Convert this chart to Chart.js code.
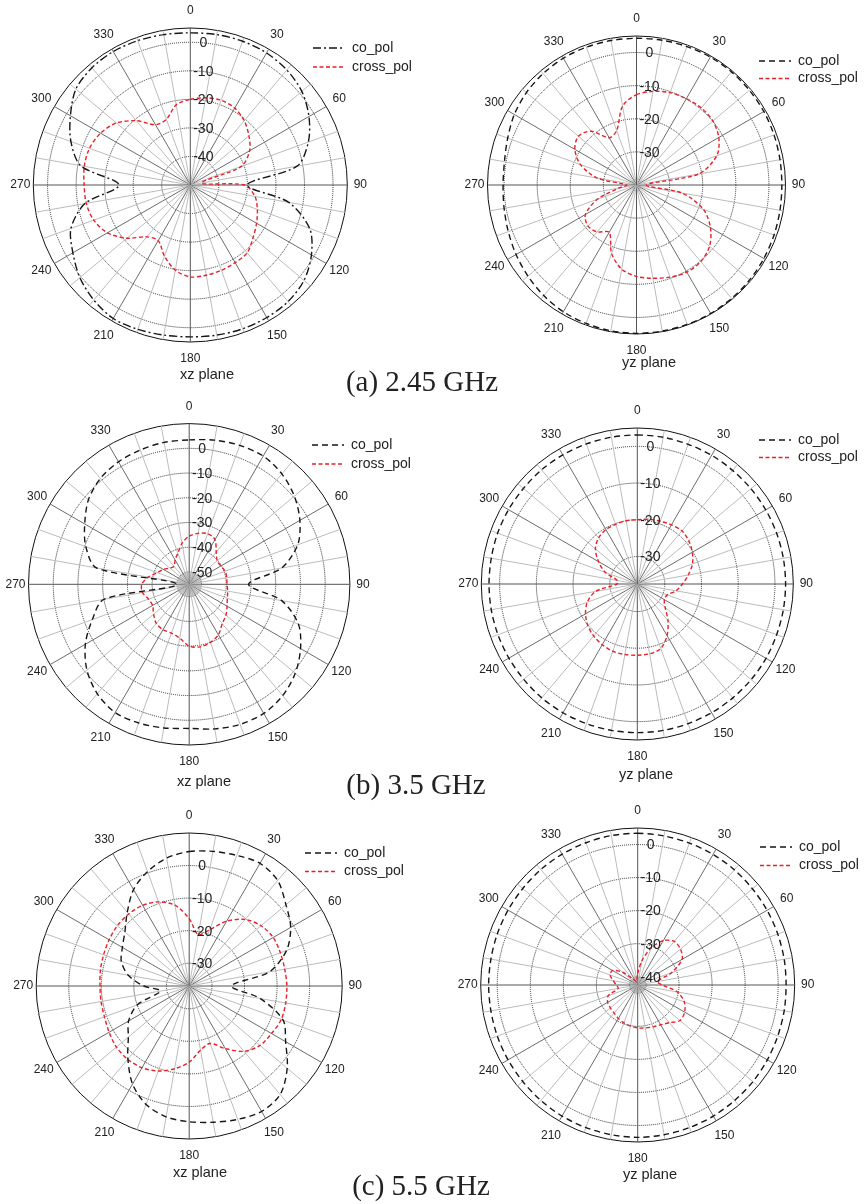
<!DOCTYPE html>
<html>
<head>
<meta charset="utf-8">
<script src="https://cdn.jsdelivr.net/npm/chart.js@4.4.1/dist/chart.umd.min.js"></script>
<style>
  body { margin: 0; background: #fff; }
  #page { position: relative; width: 868px; height: 1204px; overflow: hidden; }
  #page canvas { position: absolute; }
  .plane { position: absolute; transform: translate(-50%, -50%); font: 14.5px "Liberation Sans", Arial, sans-serif; color: #222; line-height: 1; white-space: nowrap; }
  .cap { position: absolute; transform: translate(-50%, -50%); font: 29px "Liberation Serif", "Times New Roman", serif; color: #222; line-height: 1; white-space: nowrap; }
</style>
</head>
<body>
<div id="page">
  <canvas id="aL" width="520" height="400" style="left:0;top:0"></canvas>
  <canvas id="aR" width="520" height="400" style="left:434px;top:0"></canvas>
  <canvas id="bL" width="520" height="400" style="left:0;top:398px"></canvas>
  <canvas id="bR" width="520" height="400" style="left:434px;top:398px"></canvas>
  <canvas id="cL" width="520" height="400" style="left:0;top:800px"></canvas>
  <canvas id="cR" width="520" height="400" style="left:434px;top:800px"></canvas>

  <div class="plane" style="left:207px;top:374px">xz plane</div>
  <div class="plane" style="left:649px;top:362px">yz plane</div>
  <div class="plane" style="left:204px;top:781px">xz plane</div>
  <div class="plane" style="left:646px;top:774px">yz plane</div>
  <div class="plane" style="left:200px;top:1172px">xz plane</div>
  <div class="plane" style="left:650px;top:1174px">yz plane</div>

  <div class="cap" style="left:422px;top:381px">(a) 2.45 GHz</div>
  <div class="cap" style="left:416px;top:784px">(b) 3.5 GHz</div>
  <div class="cap" style="left:421px;top:1185px">(c) 5.5 GHz</div>
</div>

<script>
// angles in degrees, 0 at top, clockwise
const ANGLES = [0, 10, 20, 30, 40, 50, 60, 70, 80, 90, 100, 110, 120, 130, 140, 150, 160, 170,
  180, 190, 200, 210, 220, 230, 240, 250, 260, 270, 280, 290, 300, 310, 320, 330, 340, 350];

// gain in dB, one value per angle
const XZ_245_CO = [3.3, 3.5, 3.6, 3.4, 2.6, 1.0, -2.0, -6.0, -12, -30, -15, -5.5, -1.0, 2.0, 3.3, 3.6, 3.6, 3.4,
  3.2, 3.4, 3.8, 4.0, 2.6, 0.5, -2.5, -5.5, -12.5, -25, -11, -5.5, -1.5, 2.3, 3.6, 4.0, 3.8, 3.5];
const XZ_245_CROSS = [-20, -19, -18.4, -18.9, -20.6, -23.2, -26, -31, -46, -31, -27, -25, -23.2, -21.3, -19, -18.6, -18.2, -17.9,
  -17.8, -19.7, -23.5, -27.5, -26.3, -21, -16.5, -14, -13, -12.8, -12.3, -12.4, -13.7, -16.2, -20.6, -25.6, -25.5, -21.5];
const YZ_245_CO = [4.3, 4.4, 4.5, 4.6, 4.6, 4.5, 4.4, 4.2, 4.0, 3.9, 4.0, 4.2, 4.4, 4.6, 4.7, 4.8, 4.8, 4.8,
  4.8, 4.7, 4.5, 4.2, 3.6, 2.8, 2.0, 1.2, 0.6, 0.3, 0.5, 1.4, 2.6, 3.4, 3.9, 4.2, 4.3, 4.3];
const YZ_245_CROSS = [-12.7, -11.3, -10.3, -9.9, -9.6, -9.9, -11.3, -14.2, -21, -37, -26, -18.5, -14.2, -11.2, -9.8, -9.6, -10.4, -11.4,
  -12.4, -14.2, -18, -23.5, -21.5, -20.8, -22.2, -27.4, -34.5, -37, -28, -22, -18.5, -17.1, -18.8, -23.5, -22.5, -15.8];

const XZ_35_CO = [3.4, 4.2, 4.8, 4.9, 3.3, 0.5, -3.3, -8.3, -17, -31, -17, -8, -3, 1.0, 3.8, 5.3, 5.3, 4.4,
  3.3, 4.0, 4.7, 4.9, 2.8, -1.0, -6.5, -13.3, -20, -50, -17, -10.5, -6.2, -1.8, 0.9, 2.2, 2.8, 3.3];
const XZ_35_CROSS = [-35.5, -34.1, -33.2, -34.1, -38, -40.2, -40.2, -39.5, -39.6, -39.7, -39.2, -38.6, -37.3, -35.6, -34.2, -31.4, -30, -29.3,
  -30, -32.9, -34, -33.8, -34.3, -36.2, -37.9, -37.5, -35.8, -35.8, -38.2, -41.3, -43, -44.8, -45.5, -43.6, -41.6, -38.2];
const YZ_35_CO = [3.1, 3.1, 3.0, 3.0, 2.9, 2.9, 2.9, 2.9, 2.9, 2.9, 2.9, 2.9, 3.0, 3.0, 3.0, 3.0, 3.0, 3.0,
  3.0, 3.0, 3.0, 3.0, 3.0, 2.9, 2.9, 2.9, 2.9, 2.9, 2.9, 3.0, 3.0, 3.0, 3.1, 3.1, 3.1, 3.1];
const YZ_35_CROSS = [-20, -19.6, -19.3, -18.9, -18.6, -19.2, -20.2, -21.5, -23.4, -25.2, -26.8, -28.8, -29, -27.6, -24.5, -21.3, -18.8, -18.2,
  -18.1, -18, -18, -18.4, -19, -19.9, -21.2, -23, -26, -32, -32, -28.2, -25.3, -22.6, -21.1, -20.4, -20.2, -20];

const XZ_55_CO = [4.3, 5.0, 5.7, 6.5, 5.3, 1.8, -1.0, -5.2, -12, -24, -14.8, -6.3, -2.8, 2.3, 6.5, 7.5, 6.6, 5.5,
  4.7, 3.8, 1.7, -2.2, -7.7, -12.6, -15.5, -20, -28, -23, -18, -14.8, -13.3, -11.2, -7.4, -2.8, 0.4, 2.9];
const XZ_55_CROSS = [-16.3, -21, -18.6, -14, -10.3, -8.2, -7.2, -7.2, -7.2, -7, -6.9, -6.9, -7.8, -8.6, -10.8, -14.8, -18.2, -17,
  -13.6, -11.2, -9.2, -8, -7.6, -7.8, -8.6, -9.3, -9.5, -9.6, -9.3, -9, -8.6, -8.2, -8.1, -8.4, -9.5, -11.8];
const YZ_55_CO = [3.4, 3.3, 3.2, 3.1, 3.0, 2.8, 2.7, 2.6, 2.5, 2.4, 2.5, 2.6, 2.8, 3.0, 3.1, 3.3, 3.4, 3.5,
  3.6, 3.5, 3.4, 3.3, 3.1, 2.9, 2.8, 2.7, 2.6, 2.6, 2.6, 2.7, 2.8, 2.9, 3.1, 3.2, 3.3, 3.4];
const YZ_55_CROSS = [-39, -35, -30.5, -27, -25.3, -25.6, -27, -31.6, -36.5, -35, -30.3, -27.5, -26.1, -25.8, -27.6, -28.6, -29, -29.3,
  -29.5, -29.9, -30.3, -30.8, -31.4, -31.7, -32, -33, -36.5, -36, -35, -33.6, -33.7, -36.5, -40, -41, -41.5, -41];

const FONT = '"Liberation Sans", Arial, sans-serif';
Chart.defaults.font.family = FONT;
Chart.defaults.color = '#222';

const BLACK = '#161616';
const RED = '#e8202a';

// labels, hub disk and ring numbers drawn from the radial scale
const polarText = {
  id: 'polarText',
  beforeDatasetsDraw(chart, args, o) {
    if (o.hub === undefined || o.hub === null) return;
    const s = chart.scales.r, ctx = chart.ctx;
    ctx.save();
    ctx.fillStyle = 'rgba(160,160,160,0.45)';
    ctx.beginPath();
    ctx.arc(s.xCenter, s.yCenter, s.getDistanceFromCenterForValue(o.hub), 0, Math.PI * 2);
    ctx.fill();
    ctx.restore();
  },
  afterDraw(chart, args, o) {
    const s = chart.scales.r, ctx = chart.ctx;
    ctx.save();
    ctx.fillStyle = '#222';
    ctx.textAlign = 'center';
    ctx.textBaseline = 'middle';
    ctx.font = '12px ' + FONT;
    ANGLES.forEach((deg, i) => {
      if (deg % 30) return;
      const a = deg * Math.PI / 180;
      const p = s.getPointPosition(i, s.drawingArea + 13 + 4 * Math.abs(Math.cos(a)));
      ctx.fillText(String(deg), p.x, p.y);
    });
    ctx.font = '14px ' + FONT;
    o.ringLabels.forEach(v => {
      ctx.fillText(String(v), s.xCenter + 13, s.yCenter - s.getDistanceFromCenterForValue(v) + 1);
    });
    ctx.restore();
  }
};

function polarChart(id, opt) {
  const coDash = opt.coDash || [6, 4];
  return new Chart(document.getElementById(id), {
    type: 'radar',
    data: {
      labels: ANGLES.map(String),
      datasets: [
        { label: 'co_pol', data: opt.co, borderColor: BLACK, backgroundColor: 'transparent',
          borderWidth: 1.4, borderDash: coDash, fill: false, tension: 0.3, clip: false },
        { label: 'cross_pol', data: opt.cross, borderColor: RED, backgroundColor: 'transparent',
          borderWidth: 1.4, borderDash: [4, 2.5], fill: false, tension: 0.3, clip: false }
      ]
    },
    options: {
      responsive: false,
      animation: false,
      events: [],
      layout: { padding: { left: opt.legend[0] - opt.legend[2], top: opt.legend[1] - opt.legend[2] - 7, right: 0, bottom: 0 } },
      elements: { point: { radius: 0 }, line: { capBezierPoints: false } },
      scales: {
        r: {
          min: opt.min,
          max: opt.max,
          startAngle: 0,
          afterBuildTicks: s => { s.ticks = opt.rings.map(v => ({ value: v })); },
          afterFit: s => { s.xCenter = opt.cx; s.yCenter = opt.cy; s.drawingArea = opt.R; },
          ticks: { display: false },
          pointLabels: { display: false },
          grid: {
            circular: true,
            lineWidth: 1,
            color: c => (c.tick && c.tick.value === opt.max) ? '#111' : '#2a2a2a'
          },
          border: { dash: c => (c.tick && c.tick.value === opt.max) ? [] : [1, 1] },
          angleLines: {
            lineWidth: 1,
            color: c => (c.index % 9 === 0) ? '#555' : (c.index % 3 === 0 ? '#6c6c6c' : '#bcbcbc')
          }
        }
      },
      plugins: {
        tooltip: { enabled: false },
        legend: {
          position: 'left',
          align: 'start',
          maxWidth: 160,
          labels: {
            usePointStyle: true,
            pointStyle: 'line',
            pointStyleWidth: 32,
            padding: opt.legend[2],
            color: '#222',
            font: { size: 14, family: FONT },
            generateLabels(chart) {
              const items = Chart.defaults.plugins.legend.labels.generateLabels(chart);
              items.forEach(it => {
                const ds = chart.data.datasets[it.datasetIndex];
                it.lineDash = ds.borderDash;
                it.lineWidth = ds.borderWidth;
                it.strokeStyle = ds.borderColor;
              });
              return items;
            }
          }
        },
        polarText: { hub: opt.hub, ringLabels: opt.ringLabels }
      }
    },
    plugins: [polarText]
  });
}

polarChart('aL', { co: XZ_245_CO, cross: XZ_245_CROSS, coDash: [8, 3, 2, 3],
  min: -50, max: 5, rings: [-40, -30, -20, -10, 0, 5], ringLabels: [0, -10, -20, -30, -40],
  cx: 190.3, cy: 185, R: 157, legend: [313, 48, 5] });
polarChart('aR', { co: YZ_245_CO, cross: YZ_245_CROSS,
  min: -40, max: 5, rings: [-30, -20, -10, 0, 5], ringLabels: [0, -10, -20, -30],
  cx: 202.5, cy: 185, R: 149, legend: [325, 61, 3.5] });
polarChart('bL', { co: XZ_35_CO, cross: XZ_35_CROSS,
  min: -55, max: 10, rings: [-50, -40, -30, -20, -10, 0, 10], ringLabels: [0, -10, -20, -30, -40, -50], hub: -50,
  cx: 189.2, cy: 186.3, R: 160.7, legend: [312, 47, 5] });
polarChart('bR', { co: YZ_35_CO, cross: YZ_35_CROSS,
  min: -37.5, max: 5, rings: [-30, -20, -10, 0, 5], ringLabels: [0, -10, -20, -30],
  cx: 203.3, cy: 186, R: 156, legend: [325, 42, 3.5] });
polarChart('cL', { co: XZ_55_CO, cross: XZ_55_CROSS,
  min: -37, max: 10, rings: [-30, -20, -10, 0, 10], ringLabels: [0, -10, -20, -30],
  cx: 189.2, cy: 186, R: 153, legend: [305, 53, 4.5] });
polarChart('cR', { co: YZ_55_CO, cross: YZ_55_CROSS,
  min: -42.5, max: 5, rings: [-40, -30, -20, -10, 0, 5], ringLabels: [0, -10, -20, -30, -40], hub: -40,
  cx: 203.7, cy: 185, R: 157, legend: [326, 47, 4.5] });
</script>
</body>
</html>
